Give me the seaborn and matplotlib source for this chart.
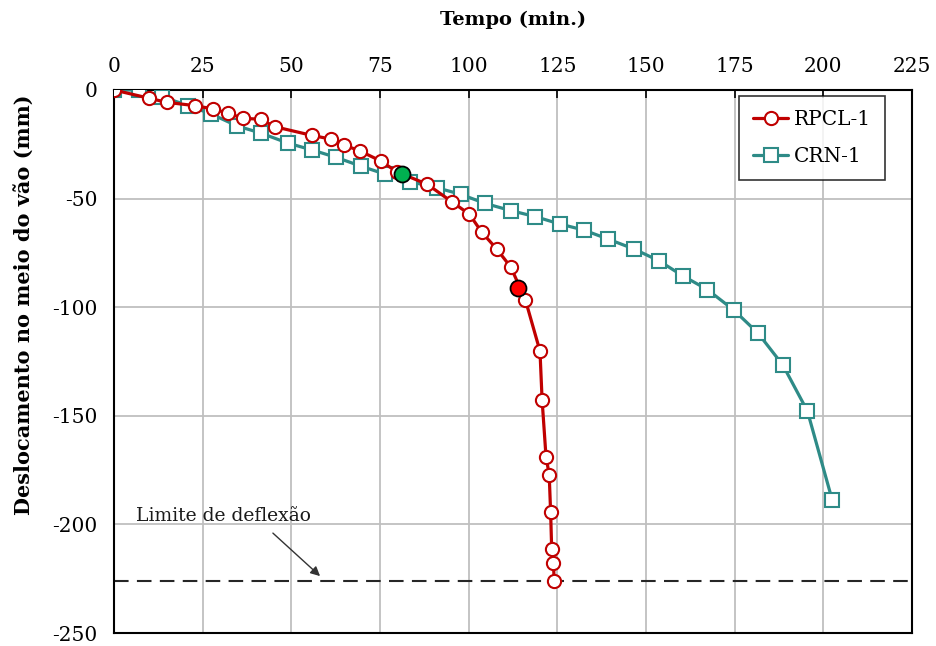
import matplotlib
matplotlib.use("Agg")
import matplotlib.pyplot as plt
import seaborn as sns
import pandas as pd

# RPCL-1 data
rpcl_t = [0, 9.9, 14.9, 22.8, 27.8, 32.2, 36.3, 41.4, 45.3, 55.8, 61.1, 64.8, 69.4, 75.2, 79.7,
          88.3, 95.2, 100.2, 103.7, 107.9, 111.9, 116.0, 120.1, 120.7, 121.8, 122.7, 123.1,
          123.4, 123.9, 124.1]
rpcl_d = [0, -3.8, -5.7, -7.2, -8.7, -10.7, -13.0, -13.5, -16.9, -20.9, -22.6, -25.3, -28.1, -32.7,
          -37.6, -43.4, -51.4, -57.2, -65.5, -73.2, -81.6, -96.7, -120.2, -142.7, -168.8, -177.1,
          -194.3, -211.3, -217.6, -226.1]

# CRN-1 data
crn_t = [0, 7.1, 13.4, 21.0, 27.3, 34.8, 41.5, 49.1, 55.8, 62.6, 69.5, 76.5, 83.5, 91.0, 97.7,
         104.6, 111.8, 118.8, 125.7, 132.5, 139.4, 146.6, 153.6, 160.3, 167.3, 174.8, 181.6,
         188.6, 195.5, 202.5]
crn_d = [0, 0, -3.1, -7.2, -11.0, -16.6, -19.9, -24.5, -27.6, -31.0, -35.0, -38.8, -42.2, -45.0,
         -48.0, -52.2, -55.5, -58.3, -61.7, -64.5, -68.7, -73.2, -78.6, -85.5, -91.9, -101.4,
         -112.0, -126.7, -147.8, -188.8]

# highlighted points
green_pt = (81.1, -38.7)
red_pt = (114.0, -91.2)
deflection_limit = -226.0

x_ticks = [0, 25, 50, 75, 100, 125, 150, 175, 200, 225]
y_ticks = [0, -50, -100, -150, -200, -250]

sns.set_style("white")
plt.rcParams['font.family'] = ['DejaVu Serif']
plt.rcParams['axes.unicode_minus'] = False
plt.rcParams['text.color'] = 'black'
plt.rcParams['axes.labelcolor'] = 'black'

RED = "#C00000"
TEAL = "#2E8B87"

fig = plt.figure(figsize=(9.36, 6.46), dpi=100)
ax = fig.add_axes([0.1218, 0.0201, 0.8526, 0.8406])

df_r = pd.DataFrame({"t": rpcl_t, "d": rpcl_d})
df_c = pd.DataFrame({"t": crn_t, "d": crn_d})

sns.lineplot(data=df_r, x="t", y="d", sort=False, ax=ax, color=RED, lw=2.3,
             marker="o", markersize=9.5, markerfacecolor="white", markeredgecolor=RED,
             markeredgewidth=1.5, label="RPCL-1", zorder=4)
sns.lineplot(data=df_c, x="t", y="d", sort=False, ax=ax, color=TEAL, lw=2.3,
             marker="s", markersize=9.5, markerfacecolor="white", markeredgecolor=TEAL,
             markeredgewidth=1.5, label="CRN-1", zorder=3)

ax.plot([green_pt[0]], [green_pt[1]], "o", ms=11.5, mfc="#00B050", mec="black", mew=1.3, zorder=6)
ax.plot([red_pt[0]], [red_pt[1]], "o", ms=11.5, mfc="#FF0000", mec="black", mew=1.3, zorder=6)

ax.axhline(deflection_limit, color="#262626", lw=1.5, ls=(0, (7, 4)), zorder=2)

ax.text(6.2, -196.0, "Limite de deflexão", fontsize=13.5, color="#1a1a1a",
        va="center", ha="left", zorder=5)
ax.annotate("", xy=(58.1, -223.8), xytext=(44.8, -204.0),
            arrowprops=dict(arrowstyle="-|>", color="#333333", lw=1.0,
                            shrinkA=0, shrinkB=0, mutation_scale=14), zorder=5)

ax.set_xlim(0, 225)
ax.set_ylim(-250, 0)
ax.set_xticks(x_ticks)
ax.set_yticks(y_ticks)
ax.xaxis.tick_top()
ax.xaxis.set_label_position("top")
ax.tick_params(axis="both", direction="in", length=6, width=1.2, labelsize=14.5,
               colors="black")
ax.tick_params(axis="y", pad=12)
ax.tick_params(axis="x", pad=10)
ax.set_xlabel("Tempo (min.)", fontsize=14, fontweight="bold", va="center", ha="center")
ax.xaxis.set_label_coords(0.5, 1.129)
ax.set_ylabel("Deslocamento no meio do vão (mm)", fontsize=15, fontweight="bold",
              va="center", ha="center")
ax.yaxis.set_label_coords(-0.1115, 0.604)

ax.grid(True, color="#BFBFBF", lw=1.3)
for s in ax.spines.values():
    s.set_visible(True)
    s.set_color("black")
    s.set_linewidth(1.5)

leg = ax.legend(loc="upper right", bbox_to_anchor=(0.966, 0.989), borderaxespad=0,
                fontsize=14.5, frameon=True, fancybox=False, edgecolor="black",
                handlelength=1.7, handletextpad=0.3, borderpad=0.7, labelspacing=0.9)
leg.get_frame().set_linewidth(1.2)

fig.savefig("out.png", dpi=100)
